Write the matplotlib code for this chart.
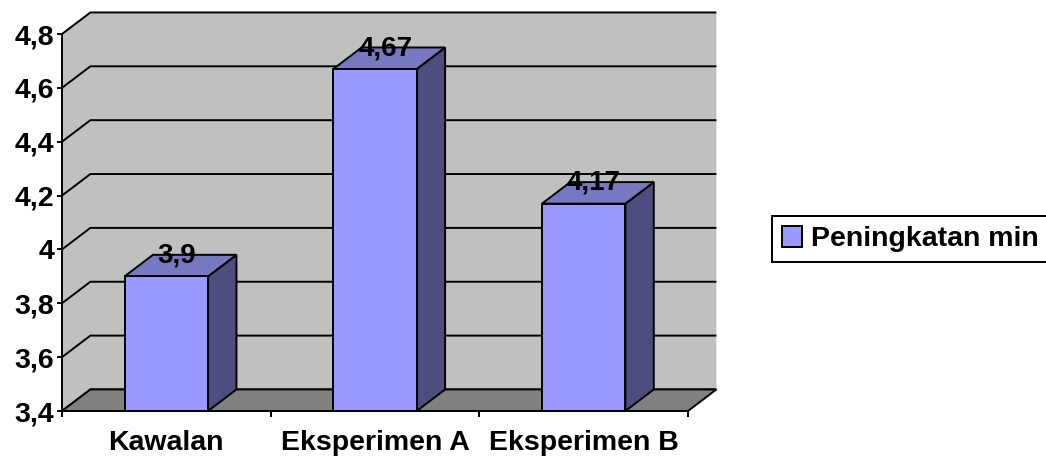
import numpy as np
import matplotlib
matplotlib.use("Agg")
import matplotlib.pyplot as plt
from matplotlib.patches import Polygon, Rectangle, Patch

plt.rcParams['font.family'] = ['Liberation Sans', 'DejaVu Sans']
plt.rcParams['font.weight'] = 'bold'

# datos
kategori = ['Kawalan', 'Eksperimen A', 'Eksperimen B']
nilai = [3.9, 4.67, 4.17]
label_nilai = ['3,9', '4,67', '4,17']
y_ticks = [3.4, 3.6, 3.8, 4.0, 4.2, 4.4, 4.6, 4.8]
y_labels = ['3,4', '3,6', '3,8', '4', '4,2', '4,4', '4,6', '4,8']
serie = 'Peningkatan min'

# profundidad del efecto 3D (en unidades de datos)
dx, dy = 0.136, 0.08
ymin, ymax = 3.4, 4.8
xmin, xmax = -0.5, 2.5
ancho = 0.4

c_pared = '#C0C0C0'
c_piso = '#808080'
c_frente = '#9999FF'
c_tope = '#7777C2'
c_lado = '#4D4D80'
lw = 1.4

fig = plt.figure(figsize=(10.46, 4.58), dpi=100)
ax = fig.add_axes([62/1046, 47/458, 626/1046, 377/458])
ax.set_xlim(xmin, xmax)
ax.set_ylim(ymin, ymax)
ax.patch.set_visible(False)

# pared del fondo + pared lateral
pared = Polygon([(xmin, ymin), (xmin, ymax), (xmin+dx, ymax+dy),
                 (xmax+dx, ymax+dy), (xmax+dx, ymin+dy), (xmax, ymin)],
                closed=True, fc=c_pared, ec='none', clip_on=False, zorder=0)
ax.add_patch(pared)

# lineas de la grilla
for v in y_ticks:
    ax.plot([xmin, xmin+dx, xmax+dx], [v, v+dy, v+dy], color='black',
            lw=lw, clip_on=False, zorder=1, solid_capstyle='butt')

# piso
piso = Polygon([(xmin, ymin), (xmin+dx, ymin+dy), (xmax+dx, ymin+dy), (xmax, ymin)],
               closed=True, fc=c_piso, ec='black', lw=lw, clip_on=False, zorder=2)
ax.add_patch(piso)

# barras 3D
for i, v in enumerate(nilai):
    x0 = i - ancho/2
    x1 = i + ancho/2
    lado = Polygon([(x1, ymin), (x1, v), (x1+dx, v+dy), (x1+dx, ymin+dy)],
                   closed=True, fc=c_lado, ec='black', lw=lw, clip_on=False, zorder=3)
    tope = Polygon([(x0, v), (x0+dx, v+dy), (x1+dx, v+dy), (x1, v)],
                   closed=True, fc=c_tope, ec='black', lw=lw, clip_on=False, zorder=3)
    frente = Rectangle((x0, ymin), ancho, v - ymin, fc=c_frente, ec='black',
                       lw=lw, clip_on=False, zorder=4)
    ax.add_patch(lado)
    ax.add_patch(tope)
    ax.add_patch(frente)
    ax.text(i + 0.05, v + 0.078, label_nilai[i], ha='center', va='center',
            fontsize=20, fontweight='bold', zorder=5)

# ejes
for s in ['top', 'right']:
    ax.spines[s].set_visible(False)
ax.spines['left'].set_linewidth(lw)
ax.spines['bottom'].set_linewidth(lw)
ax.spines['left'].set_zorder(5)

ax.set_yticks(y_ticks)
ax.set_yticklabels(y_labels, fontsize=20.5, fontweight='bold')
ax.tick_params(axis='y', length=3.5, width=lw, pad=2)

ax.set_xticks(range(len(kategori)))
ax.set_xticklabels(kategori, fontsize=20.5, fontweight='bold')
ax.set_xticks([-0.5, 0.5, 1.5, 2.5], minor=True)
ax.tick_params(axis='x', which='major', length=0, pad=14)
ax.tick_params(axis='x', which='minor', length=4, width=lw)

# leyenda
fig.legend(handles=[Patch(fc=c_frente, ec='black', lw=lw, label=serie)],
           loc='center left', bbox_to_anchor=(772/1046, 1 - 239/458),
           borderaxespad=0, fancybox=False, edgecolor='black', framealpha=1,
           prop={'size': 20.5, 'weight': 'bold'}, handlelength=0.72,
           handleheight=0.77, handletextpad=0.3, borderpad=0.34)
fig.legends[0].get_frame().set_linewidth(lw)

fig.savefig('out.png', dpi=100)
